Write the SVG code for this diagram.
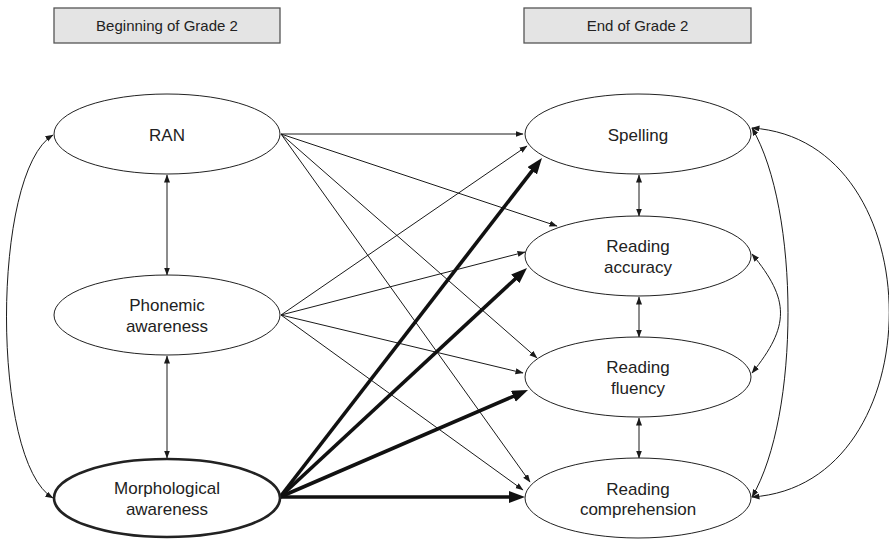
<svg xmlns="http://www.w3.org/2000/svg" width="889" height="539" viewBox="0 0 889 539">
<style>
.hdr rect{fill:#e4e4e4;stroke:#555;stroke-width:1.3}
.hdr text{font-family:"Liberation Sans",Arial,sans-serif;font-size:15px;fill:#222;text-anchor:middle}
.node ellipse{fill:#fff;stroke:#222;stroke-width:1}
.node.thick ellipse{stroke-width:2.6}
.node text{font-family:"Liberation Sans",Arial,sans-serif;font-size:17px;fill:#222;text-anchor:middle}
.thin{fill:none;stroke:#1a1a1a;stroke-width:1;marker-end:url(#ah)}
.dbl{fill:none;stroke:#1a1a1a;stroke-width:1;marker-start:url(#ah);marker-end:url(#ah)}
.heavy{fill:none;stroke:#111;stroke-width:3.6;marker-end:url(#ahb)}
</style>
<defs>
<marker id="ah" markerUnits="userSpaceOnUse" markerWidth="9" markerHeight="7" refX="7.5" refY="3" orient="auto-start-reverse" viewBox="0 0 9 7">
<path d="M0,0 L8,3 L0,6 z" fill="#1a1a1a"/>
</marker>
<marker id="ahb" markerUnits="userSpaceOnUse" markerWidth="17" markerHeight="13" refX="10" refY="6" orient="auto" viewBox="0 0 17 13">
<path d="M0,0 L16,6 L0,12 z" fill="#111"/>
</marker>
</defs>

<g id="hdr-begin" class="hdr">
<rect x="54" y="8" width="226" height="35"/>
<text x="167" y="30.5">Beginning of Grade 2</text>
</g>
<g id="hdr-end" class="hdr">
<rect x="524" y="8" width="227" height="35"/>
<text x="637.5" y="30.5">End of Grade 2</text>
</g>

<g id="connectors">
<path class="dbl" d="M53,135 C -9,172 -9,462 53,498"/>
<path class="dbl" d="M167,175 L167,275"/>
<path class="dbl" d="M167,356 L167,458"/>
<path class="dbl" d="M639,175 L639,216"/>
<path class="dbl" d="M639,297 L639,337"/>
<path class="dbl" d="M639,418 L639,458"/>
<path class="dbl" d="M752,128 C 800,210 800,415 752,497"/>
<path class="dbl" d="M752,254 C 790,300 790,326 752,373"/>
<path class="dbl" d="M752,128 C 935,140 935,485 752,497"/>
<path class="thin" d="M281,134 L523,134"/>
<path class="thin" d="M281,134 L557,226"/>
<path class="thin" d="M281,134 L537,358"/>
<path class="thin" d="M281,134 L530,482"/>
<path class="thin" d="M281,315 L527,146"/>
<path class="thin" d="M281,315 L525,252"/>
<path class="thin" d="M281,315 L523,373"/>
<path class="thin" d="M281,315 L523,490"/>
<path class="heavy" d="M280,497 L538.3,162.8"/>
<path class="heavy" d="M280,497 L522.6,272.1"/>
<path class="heavy" d="M280,497 L522.5,392.4"/>
<path class="heavy" d="M280,497 L519,497"/>
</g>

<g id="ran" class="node">
<ellipse cx="167" cy="134" rx="113" ry="40"/>
<text x="167" y="140.5">RAN</text>
</g>
<g id="phonemic" class="node">
<ellipse cx="167" cy="315" rx="113" ry="40"/>
<text x="167" y="311">Phonemic</text>
<text x="167" y="332">awareness</text>
</g>
<g id="morphological" class="node thick">
<ellipse cx="167" cy="498" rx="113" ry="39"/>
<text x="167" y="494">Morphological</text>
<text x="167" y="515">awareness</text>
</g>
<g id="spelling" class="node">
<ellipse cx="638" cy="134" rx="113" ry="40"/>
<text x="638" y="140.5">Spelling</text>
</g>
<g id="accuracy" class="node">
<ellipse cx="638" cy="256" rx="113" ry="40"/>
<text x="638" y="252">Reading</text>
<text x="638" y="273">accuracy</text>
</g>
<g id="fluency" class="node">
<ellipse cx="638" cy="377" rx="113" ry="40"/>
<text x="638" y="373">Reading</text>
<text x="638" y="394">fluency</text>
</g>
<g id="comprehension" class="node">
<ellipse cx="638" cy="498" rx="113" ry="40"/>
<text x="638" y="494.5">Reading</text>
<text x="638" y="515">comprehension</text>
</g>
</svg>
